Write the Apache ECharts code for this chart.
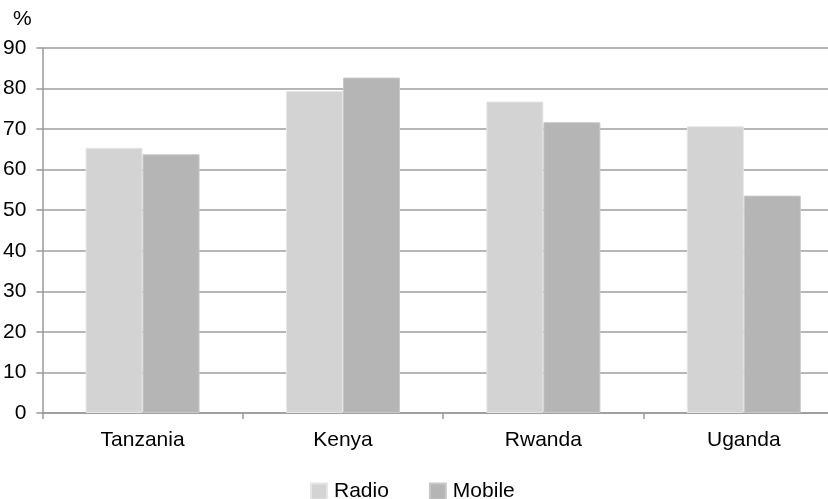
<!DOCTYPE html>
<html>
<head>
<meta charset="utf-8">
<script src="https://cdn.jsdelivr.net/npm/echarts@6/dist/echarts.min.js"></script>
<style>html,body{margin:0;padding:0;background:#fff;overflow:hidden;width:828px;height:499px;}#c{width:850px;height:499px;}</style>
</head>
<body>
<div id="c"></div>
<script>
const categories = ['Tanzania', 'Kenya', 'Rwanda', 'Uganda'];
const radio = [65.4, 79.4, 76.8, 70.7];
const mobile = [63.8, 82.7, 71.7, 53.6];
const yTicks = { min: 0, max: 90, interval: 10 };

const chart = echarts.init(document.getElementById('c'), null, { renderer: 'canvas' });
const font = 'Liberation Sans, Arial, sans-serif';
chart.setOption({
  animation: false,
  backgroundColor: '#fff',
  textStyle: { fontFamily: font },
  title: { text: '%', left: 8, top: 4, textStyle: { fontSize: 21, fontWeight: 'normal', color: '#000', fontFamily: font } },
  grid: { left: 41, top: 48, width: 803, height: 365 },
  legend: {
    left: 305, top: 476,
    itemWidth: 16, itemHeight: 16, itemGap: 40,
    textStyle: { fontSize: 21, color: '#000', fontFamily: font, padding: [0, 0, 0, 2] },
    data: [{ name: 'Radio', icon: 'rect' }, { name: 'Mobile', icon: 'rect' }]
  },
  xAxis: {
    type: 'category', data: categories,
    axisLine: { lineStyle: { color: '#999', width: 1.5 } },
    axisTick: { show: true, length: 6, lineStyle: { color: '#999', width: 1.5 } },
    axisLabel: { fontSize: 21, color: '#000', margin: 17, fontFamily: font }
  },
  yAxis: {
    type: 'value', min: yTicks.min, max: yTicks.max, interval: yTicks.interval,
    axisLine: { show: true, lineStyle: { color: '#999', width: 1.5 } },
    axisTick: { show: true, length: 6, lineStyle: { color: '#999', width: 1.5 } },
    axisLabel: { fontSize: 21, color: '#000', margin: 16, fontFamily: font },
    splitLine: { lineStyle: { color: '#9e9e9e', width: 1.5 } }
  },
  series: [
    { name: 'Radio', type: 'bar', data: radio, barWidth: 57, barGap: '0%',
      itemStyle: { color: '#d3d3d3', borderColor: '#e6e6e6', borderWidth: 1 } },
    { name: 'Mobile', type: 'bar', data: mobile, barWidth: 57, barGap: '0%',
      itemStyle: { color: '#b5b5b5', borderColor: '#c8c8c8', borderWidth: 1 } }
  ]
});
</script>
</body>
</html>
